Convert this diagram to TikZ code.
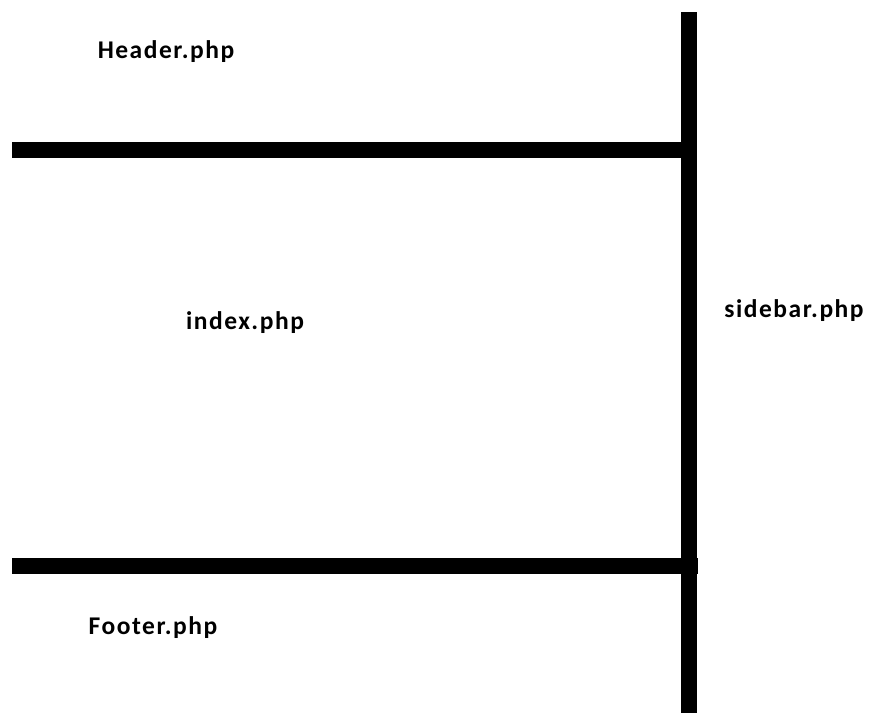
\documentclass[tikz,border=0pt]{standalone}
\usepackage{fontspec}
\setmainfont{Carlito}
\newfontfamily\partfont[LetterSpace=6]{Carlito}
\usepackage{tikz}
\usetikzlibrary{positioning}

\begin{document}
\begin{tikzpicture}[x=1pt, y=-1pt,
    bar/.style={line width=15.5pt, black},
    part/.style={font=\partfont\fontsize{25.5}{28}\selectfont\bfseries, text=black, inner sep=0pt}
]
    \useasboundingbox (0,0) rectangle (871,713);
    % Layout frame: one upright bar, two cross bars
    \coordinate (top) at (689,12);
    \coordinate (bottom) at (689,713);
    \coordinate (headl) at (12,150);
    \coordinate (headr) at (689,150);
    \coordinate (footl) at (12,566);
    \coordinate (footr) at (698,566);
    \draw[bar] (top) -- (bottom);
    \draw[bar] (headl) -- (headr);
    \draw[bar] (footl) -- (footr);

    % Page parts
    \node[part] (header) at (166,52) {Header.php};
    \node[part] (index) at (245,323) {index.php};
    \node[part] (sidebar) at (794,311) {sidebar.php};
    \node[part] (footer) at (153,628) {Footer.php};
\end{tikzpicture}
\end{document}
